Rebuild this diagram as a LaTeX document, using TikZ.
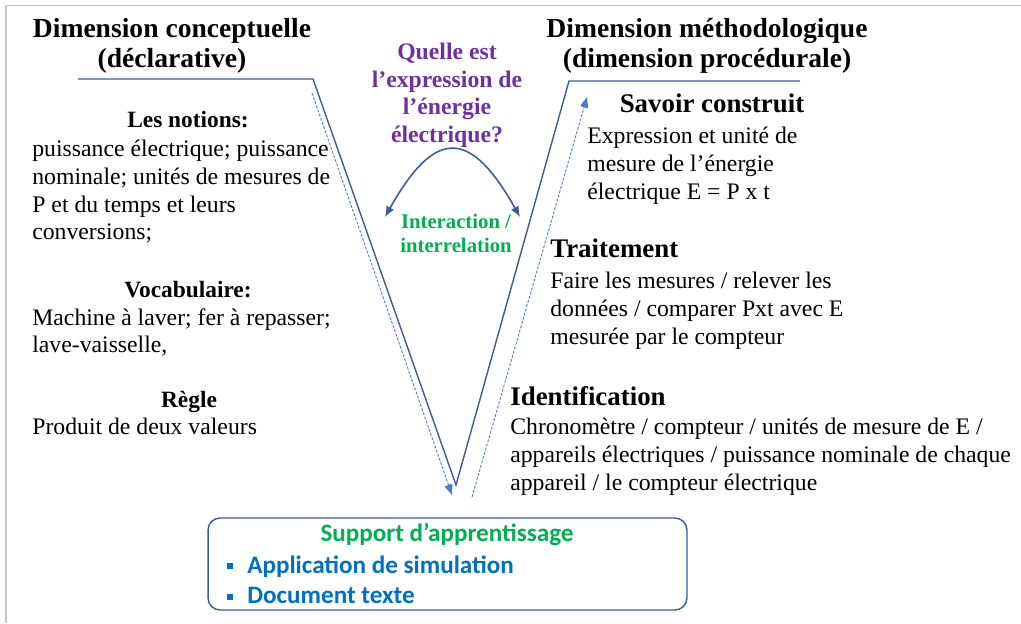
\documentclass[tikz,border=0pt]{standalone}
\usepackage{fontspec}
\setmainfont{Liberation Serif}
\newfontfamily\supportfont{Carlito}
\usetikzlibrary{arrows.meta,positioning}
\definecolor{vlineblue}{HTML}{3B5C9C}
\definecolor{guideblue}{HTML}{4A7CC9}
\definecolor{askpurple}{HTML}{7030A0}
\definecolor{linkgreen}{HTML}{00B050}
\definecolor{itemblue}{HTML}{0070C0}
\definecolor{framegray}{HTML}{C4C4C4}

\begin{document}
\begin{tikzpicture}[x=0.02cm,y=-0.02cm,>=Latex]
\tikzset{head/.style={font=\fontsize{15.7}{17}\selectfont\bfseries,align=center,inner sep=0pt,anchor=north},
  sub/.style={font=\fontsize{13.3}{15.75}\selectfont\bfseries,inner sep=0pt,anchor=base},
  subbig/.style={font=\fontsize{15.3}{17}\selectfont\bfseries,inner sep=0pt,anchor=base west},
  body/.style={font=\fontsize{13.5}{15.75}\selectfont,align=left,inner sep=0pt,anchor=north west},
  ask/.style={font=\fontsize{13.5}{15.7}\selectfont\bfseries,text=askpurple,align=center,inner sep=0pt,anchor=north},
  linktext/.style={font=\fontsize{11.8}{13.6}\selectfont\bfseries,text=linkgreen,align=center,inner sep=0pt,anchor=north},
  vline/.style={draw=vlineblue,line width=0.8pt},
  guide/.style={draw=guideblue,line width=0.5pt,dash pattern=on 1.6pt off 0.9pt,-{Triangle[length=6pt,width=4.6pt]}},
  link/.style={draw=vlineblue,line width=0.9pt,{Latex[length=6pt,width=5pt]}-{Latex[length=6pt,width=5pt]}},
  supportbox/.style={draw=vlineblue,line width=0.8pt,rounded corners=0.24cm,minimum width=9.58cm,minimum height=1.84cm,inner sep=0pt},
  supporttitle/.style={font=\supportfont\fontsize{14.3}{16}\selectfont\bfseries,text=linkgreen,inner sep=0pt,anchor=base},
  item/.style={font=\supportfont\fontsize{14.3}{16}\selectfont\bfseries,text=itemblue,inner sep=0pt,anchor=base west},
  bullet/.style={fill=itemblue,minimum size=0.13cm,inner sep=0pt}}
\useasboundingbox (0,0) rectangle (1021,623);
% frame
\draw[framegray,line width=1.1pt] (6,623) -- (6,5.5) -- (1021,5.5);

% the V
\coordinate (ltop) at (78,79);
\coordinate (lcorner) at (313,79);
\coordinate (vbot) at (456,485);
\coordinate (rcorner) at (569,81);
\coordinate (rtop) at (800,81);
\draw[vline] (ltop) -- (lcorner) -- (vbot) -- (rcorner) -- (rtop);
\coordinate (gl1) at (312,93);
\coordinate (gl2) at (452,495);
\coordinate (gr1) at (472,497);
\coordinate (gr2) at (587,97);
\draw[guide] (gl1) -- (gl2);
\draw[guide] (gr1) -- (gr2);

% headings
\node[head] (conc) at (172,18) {Dimension conceptuelle\\(déclarative)};
\node[head] (meth) at (707,18) {Dimension méthodologique\\(dimension procédurale)};

% question and interaction
\node[ask] (question) at (447,43) {Quelle est\\l’expression de\\l’énergie\\électrique?};
\coordinate (cl) at (385,217);
\coordinate (cr) at (520,217);
\draw[link] (cl) .. controls (435,128) and (470,128) .. (cr);
\node[linktext] (inter) at (456,214) {Interaction /\\interrelation};

% left side
\node[sub] (notions) at (188,127) {Les notions:};
\node[body] (notionstxt) at (32,140) {puissance électrique; puissance\\nominale; unités de mesures de\\P et du temps et leurs\\conversions;};
\node[sub] (vocab) at (188,297) {Vocabulaire:};
\node[body] (vocabtxt) at (32,308) {Machine à laver; fer à repasser;\\lave-vaisselle,};
\node[sub] (regle) at (189,407) {Règle};
\node[body] (regletxt) at (32,418) {Produit de deux valeurs};

% right side
\node[subbig,anchor=base] (savoir) at (712,112) {Savoir construit};
\node[body] (savoirtxt) at (587,127) {Expression et unité de\\mesure de l’énergie\\électrique E = P x t};
\node[subbig] (trait) at (550,257) {Traitement};
\node[body] (traittxt) at (550,272) {Faire les mesures / relever les\\données / comparer Pxt avec E\\mesurée par le compteur};
\node[subbig] (ident) at (510,405) {Identification};
\node[body] (identtxt) at (510,418) {Chronomètre / compteur / unités de mesure de E /\\appareils électriques / puissance nominale de chaque\\appareil / le compteur électrique};

% support
\node[supportbox] (support) at (447.5,564) {};
\node[supporttitle] (suptitle) at (447,541) {Support d’apprentissage};
\node[bullet] (b1) at (230,566) {};
\node[item] (app) at (247,573) {Application de simulation};
\node[bullet] (b2) at (230,597) {};
\node[item] (doc) at (247,603) {Document texte};
\end{tikzpicture}
\end{document}
